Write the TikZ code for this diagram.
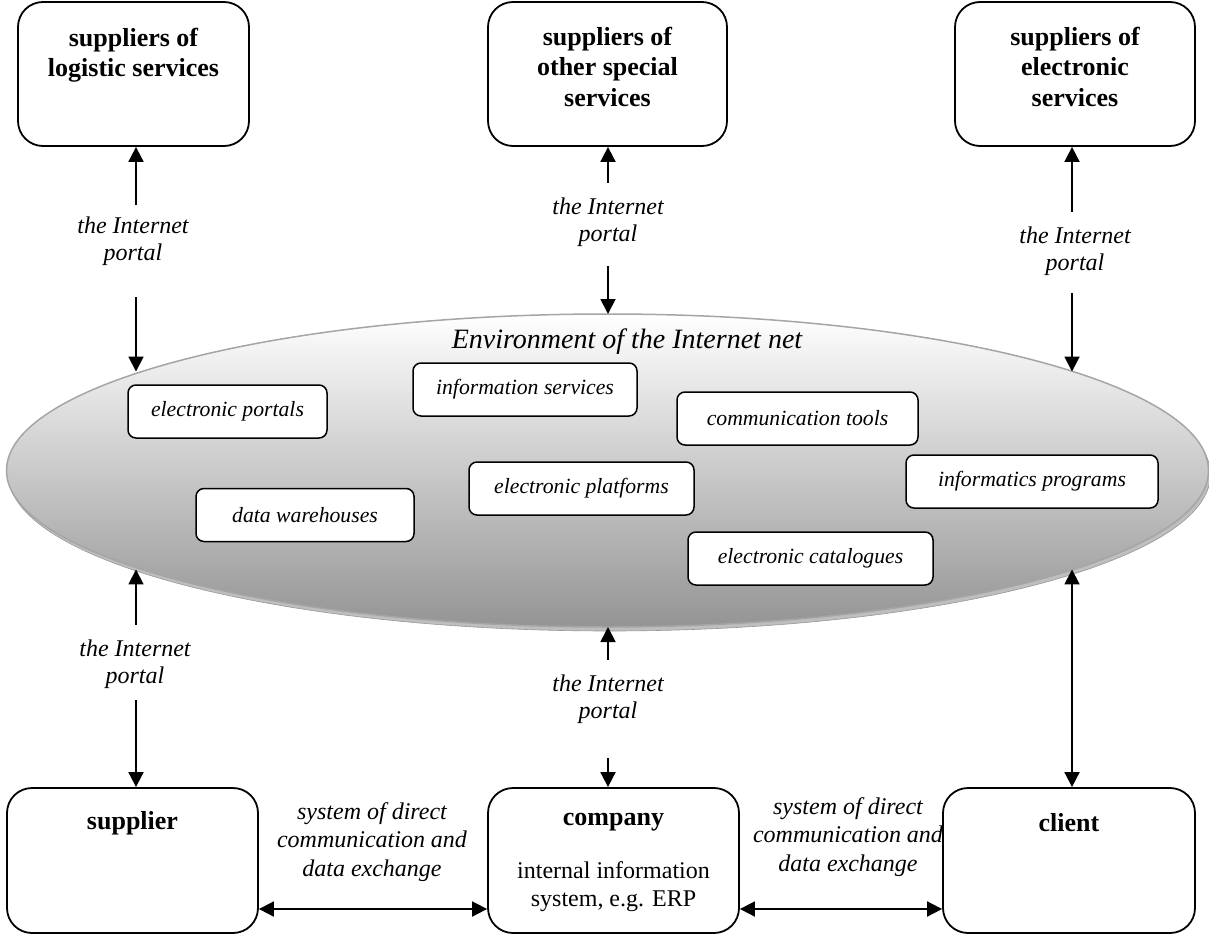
\documentclass[tikz,border=0pt]{standalone}
\usepackage{fontspec}
\setmainfont{Liberation Serif}
\usetikzlibrary{arrows.meta,shapes.geometric}
\definecolor{ellbot}{RGB}{148,148,148}
\definecolor{ellline}{RGB}{165,165,165}
\definecolor{ellshadow}{RGB}{190,190,190}
\begin{document}
\begin{tikzpicture}[x=1pt,y=-1pt,
  bigbox/.style={draw, line width=1.8pt, rounded corners=25pt, inner sep=0},
  boxtitle/.style={font=\fontsize{26}{30.5}\selectfont\bfseries, align=center, inner sep=0},
  lbl/.style={font=\fontsize{24}{27}\selectfont\itshape, align=center, inner sep=0},
  xlbl/.style={font=\fontsize{24}{28.5}\selectfont\itshape, align=center, inner sep=0},
  plaintxt/.style={font=\fontsize{24}{28}\selectfont, align=center, inner sep=0},
  inbox/.style={draw, fill=white, line width=1.5pt, rounded corners=8pt, inner sep=0, minimum height=53pt, font=\fontsize{21.7}{25}\selectfont\itshape},
  arr/.style={line width=1.8pt, -{Triangle[length=15pt,width=15pt]}},
  dbl/.style={line width=1.8pt, {Triangle[length=15pt,width=15pt]}-{Triangle[length=15pt,width=15pt]}}
]
\useasboundingbox (0,0) rectangle (1209,936);

% ellipse environment
\node[ellipse, minimum width=1202pt, minimum height=313pt, inner sep=0, outer sep=0, fill=ellshadow, draw=ellshadow!80!black, line width=0.6pt] (envshadow) at (609.5,474.5) {};
\node[ellipse, minimum width=1202pt, minimum height=313pt, inner sep=0, outer sep=0, draw=ellline, line width=1.5pt, top color=white, bottom color=ellbot] (env) at (607.5,470.5) {};
\node[font=\fontsize{28}{32}\selectfont\itshape, inner sep=0] (envtitle) at (627,342) {Environment of the Internet net};

% inner boxes
\node[inbox, minimum width=199pt] (ep) at (227.5,411.5) {electronic portals};
\node[inbox, minimum width=224pt] (is) at (525,389.5) {information services};
\node[inbox, minimum width=241pt] (ct) at (797.5,418.5) {communication tools};
\node[inbox, minimum width=252pt] (ip) at (1032,481.5) {informatics programs};
\node[inbox, minimum width=225pt] (epl) at (581.5,488.5) {electronic platforms};
\node[inbox, minimum width=218pt] (dw) at (305,515) {data warehouses};
\node[inbox, minimum width=245pt] (ec) at (810.5,558.5) {electronic catalogues};

% top boxes
\node[bigbox, minimum width=231pt, minimum height=144pt] (tl) at (133.5,74) {};
\node[bigbox, minimum width=239pt, minimum height=144pt] (tm) at (607.5,74) {};
\node[bigbox, minimum width=240pt, minimum height=144pt] (tr) at (1075,74) {};
\node[boxtitle, anchor=north] (tltxt) at (133.5,27.5) {suppliers of\\logistic services};
\node[boxtitle, anchor=north] (tmtxt) at (607.5,26.5) {suppliers of\\other special\\services};
\node[boxtitle, anchor=north] (trtxt) at (1075,26.5) {suppliers of\\electronic\\services};

% bottom boxes
\node[bigbox, minimum width=251pt, minimum height=145pt] (supplier) at (132.5,860.5) {};
\node[bigbox, minimum width=251pt, minimum height=145pt] (company) at (613.5,860.5) {};
\node[bigbox, minimum width=252pt, minimum height=145pt] (client) at (1069,860.5) {};
\node[boxtitle] (suptxt) at (132.5,823) {supplier};
\node[boxtitle] (comptxt) at (613.5,822) {company};
\node[plaintxt] (compsub) at (613.5,887) {internal information\\system, e.g. ERP};
\node[boxtitle] (clitxt) at (1069,823) {client};

% labels
\node[lbl] (l1) at (133,241) {the Internet\\portal};
\node[lbl] (l2) at (608,222) {the Internet\\portal};
\node[lbl] (l3) at (1075,251) {the Internet\\portal};
\node[lbl] (l4) at (135,664) {the Internet\\portal};
\node[lbl] (l5) at (608,699) {the Internet\\portal};
\node[xlbl] (x1) at (372,842) {system of direct\\communication and\\data exchange};
\node[xlbl] (x2) at (848,837) {system of direct\\communication and\\data exchange};

% free ends
\coordinate (p1) at (136,205);
\coordinate (p2) at (136,297);
\coordinate (p3) at (608,183);
\coordinate (p4) at (608,266);
\coordinate (p5) at (1072,212);
\coordinate (p6) at (1072,293);
\coordinate (p7) at (136,625);
\coordinate (p8) at (136,700);
\coordinate (p9) at (608,660);
\coordinate (p10) at (608,758);
\coordinate (hy) at (0,909);

% connectors
\draw[arr] (p1) -- (p1 |- tl.south);
\draw[arr] (p2) -- (p2 |- env.168.37);
\draw[arr] (p3) -- (p3 |- tm.south);
\draw[arr] (p4) -- (p4 |- env.north);
\draw[arr] (p5) -- (p5 |- tr.south);
\draw[arr] (p6) -- (p6 |- env.12.07);
\draw[arr] (p7) -- (p7 |- env.-168.37);
\draw[arr] (p8) -- (p8 |- supplier.north);
\draw[arr] (p9) -- (p9 |- env.south);
\draw[arr] (p10) -- (p10 |- company.north);
\draw[dbl] (p6 |- env.-12.07) -- (p6 |- client.north);
\draw[dbl] (supplier.east |- hy) -- (company.west |- hy);
\draw[dbl] (company.east |- hy) -- (client.west |- hy);
\end{tikzpicture}
\end{document}
